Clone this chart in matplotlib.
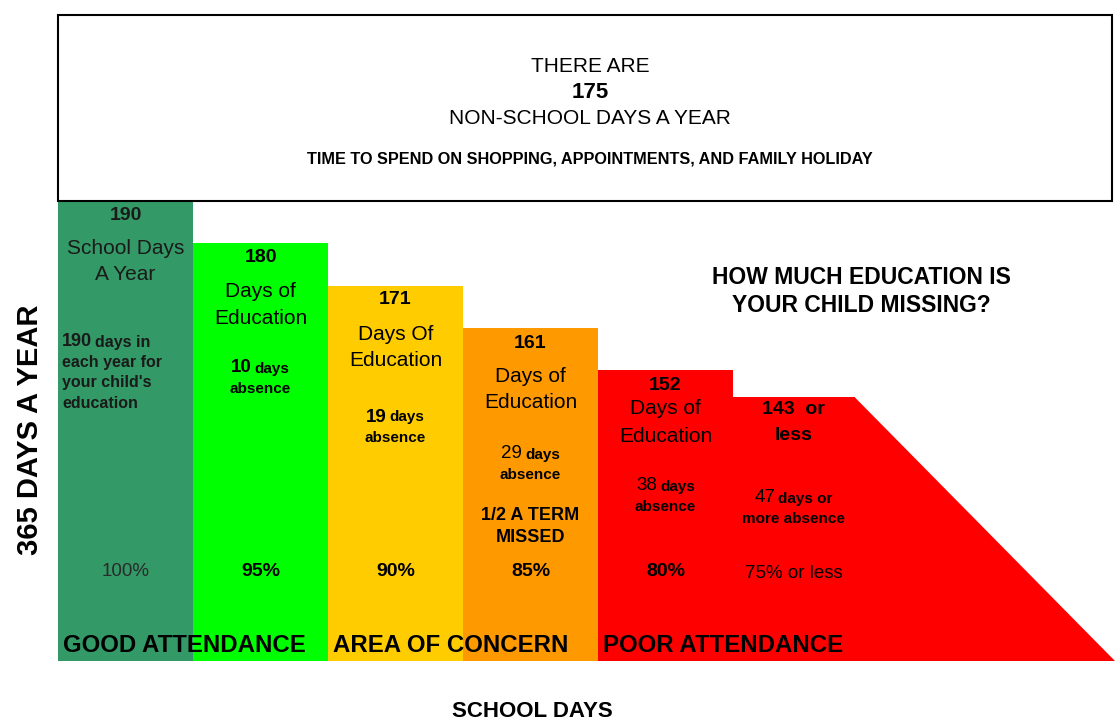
import numpy as np
import matplotlib
matplotlib.use("Agg")
import matplotlib.pyplot as plt
from matplotlib.offsetbox import TextArea, HPacker, AnnotationBbox
from matplotlib.patches import Polygon

plt.rcParams['font.family'] = ['Liberation Sans', 'DejaVu Sans']

# ---------------- data ----------------
school_days = [190, 180, 171, 161, 152, 143]
days_in_year = 365
non_school_days = 175
absence_days = [10, 19, 29, 38, 47]
percent_labels = ['100%', '95%', '90%', '85%', '80%', '75% or less']
headline = ['190', '180', '171', '161', '152', '143  or']
subhead = [['School Days', 'A Year'], ['Days of', 'Education'], ['Days Of', 'Education'],
           ['Days of', 'Education'], ['Days of', 'Education'], ['less']]
zone_labels = ['GOOD ATTENDANCE', 'AREA OF CONCERN', 'POOR ATTENDANCE']
bar_colors = ['#339966', '#00FF00', '#FFCC00', '#FF9900', '#FF0000', '#FF0000']
bar_widths = [1, 1, 1, 1, 1, 0.9]

# the picture's day axis is not drawn to scale: steps are evened out
scale_days = [0, 143, 152, 161, 171, 180, 190, 365]
scale_frac = [0, 264, 291, 333, 375, 418, 460, 646]


def fwd(y):
    return np.interp(y, scale_days, scale_frac)


def inv(y):
    return np.interp(y, scale_frac, scale_days)


fig = plt.figure(figsize=(11.15, 7.22), dpi=100)
ax = fig.add_axes([58 / 1115, (722 - 661) / 722, (1115 - 58) / 1115, (661 - 15) / 722])
ax.set_yscale('function', functions=(fwd, inv))
xmax = (1115 - 58) / 135
ax.set_xlim(0, xmax)
ax.set_ylim(0, days_in_year)
ax.set_axis_off()

lefts = np.concatenate([[0], np.cumsum(bar_widths)[:-1]])
ax.bar(lefts, school_days, width=bar_widths, align='edge', color=bar_colors, linewidth=0)

# slope after last bar
x_end = lefts[-1] + bar_widths[-1]
ax.add_patch(Polygon([(x_end, 0), (x_end, school_days[-1]), (xmax, 0)],
                     closed=True, facecolor='#FF0000', edgecolor='none'))

# non-school days box
ax.bar([0], [non_school_days], bottom=[school_days[0]], width=7.81, align='edge',
       facecolor='white', edgecolor='black', linewidth=1.5, clip_on=False)

T = ax.get_xaxis_transform()


def yf(py):
    return (661 - (py + 2)) / 646


def txt(x, py, s, size, weight='normal', ha='center', color='black'):
    ax.text(x, yf(py), s, transform=T, ha=ha, va='center', fontsize=size,
            fontweight=weight, color=color)


def mixed(x, py, parts, ha=0.5, color='black'):
    children = [TextArea(s, textprops=dict(fontsize=sz, fontweight=w, color=color))
                for s, sz, w in parts]
    box = HPacker(children=children, align='baseline', pad=0, sep=2)
    ab = AnnotationBbox(box, (x, yf(py)), xycoords=T, frameon=False,
                        box_alignment=(ha, 0.5), pad=0)
    ax.add_artist(ab)


# box text
cx = (590 - 58) / 135
txt(cx, 64, 'THERE ARE', 15)
txt(cx, 90, str(non_school_days), 16, 'bold')
txt(cx, 117, 'NON-SCHOOL DAYS A YEAR', 15)
txt(cx, 157, 'TIME TO SPEND ON SHOPPING, APPOINTMENTS, AND FAMILY HOLIDAY', 11.7, 'bold')

centers = lefts + np.array(bar_widths) / 2
head_y = [214, 256, 298, 341, 384, 407]
sub_y = [[247, 273], [290, 316], [332, 358], [375, 401], [407, 434], [434]]
for i in range(6):
    col = '#1a1a1a' if i == 0 else 'black'
    if i < 5:
        txt(centers[i], head_y[i], headline[i], 14, 'bold', color=col)
        for s, y in zip(subhead[i], sub_y[i]):
            txt(centers[i], y, s, 15, color=col)
    else:
        txt(centers[i], head_y[i], headline[i], 14, 'bold')
        txt(centers[i], sub_y[i][0], subhead[i][0], 14, 'bold')

# first bar description
x0 = (62 - 58) / 135
mixed(x0, 340, [(str(school_days[0]), 13, 'bold'), ('days in', 11.5, 'bold')], ha=0, color='#1a1a1a')
txt(x0, 360, 'each year for', 11.5, 'bold', ha='left', color='#1a1a1a')
txt(x0, 381, "your child's", 11.5, 'bold', ha='left', color='#1a1a1a')
txt(x0, 401, 'education', 11.5, 'bold', ha='left', color='#1a1a1a')

abs_y = [366, 415, 452, 484, 496]
num_w = ['bold', 'bold', 'normal', 'normal', 'normal']
for j in range(5):
    i = j + 1
    word = 'days or' if i == 5 else 'days'
    mixed(centers[i], abs_y[j], [(str(absence_days[j]), 13.5, num_w[j]), (word, 11, 'bold')])
    txt(centers[i], abs_y[j] + 21, 'more absence' if i == 5 else 'absence', 11, 'bold')

txt(centers[3], 513, '1/2 A TERM', 13, 'bold')
txt(centers[3], 536, 'MISSED', 13, 'bold')

for i, p in enumerate(percent_labels):
    if i == 0:
        txt(centers[i], 569, p, 13.5, color='#2a2a2a')
    elif i == 5:
        txt(centers[i], 571, p, 13.5)
    else:
        txt(centers[i], 569, p, 14, 'bold')

for k, lab in enumerate(zone_labels):
    txt(2 * k + (63 - 58) / 135, 644, lab, 17.3, 'bold', ha='left')

txt((861 - 58) / 135, 275, 'HOW MUCH EDUCATION IS', 16.5, 'bold')
txt((861 - 58) / 135, 304, 'YOUR CHILD MISSING?', 16.5, 'bold')

fig.text(30 / 1115, 1 - 430 / 722, '365 DAYS A YEAR', rotation=90, fontsize=21,
         fontweight='bold', ha='center', va='center')
fig.text(532 / 1115, 1 - 717 / 722, 'SCHOOL DAYS', fontsize=16, fontweight='bold',
         ha='center', va='baseline')

fig.savefig('out.png', dpi=100)
